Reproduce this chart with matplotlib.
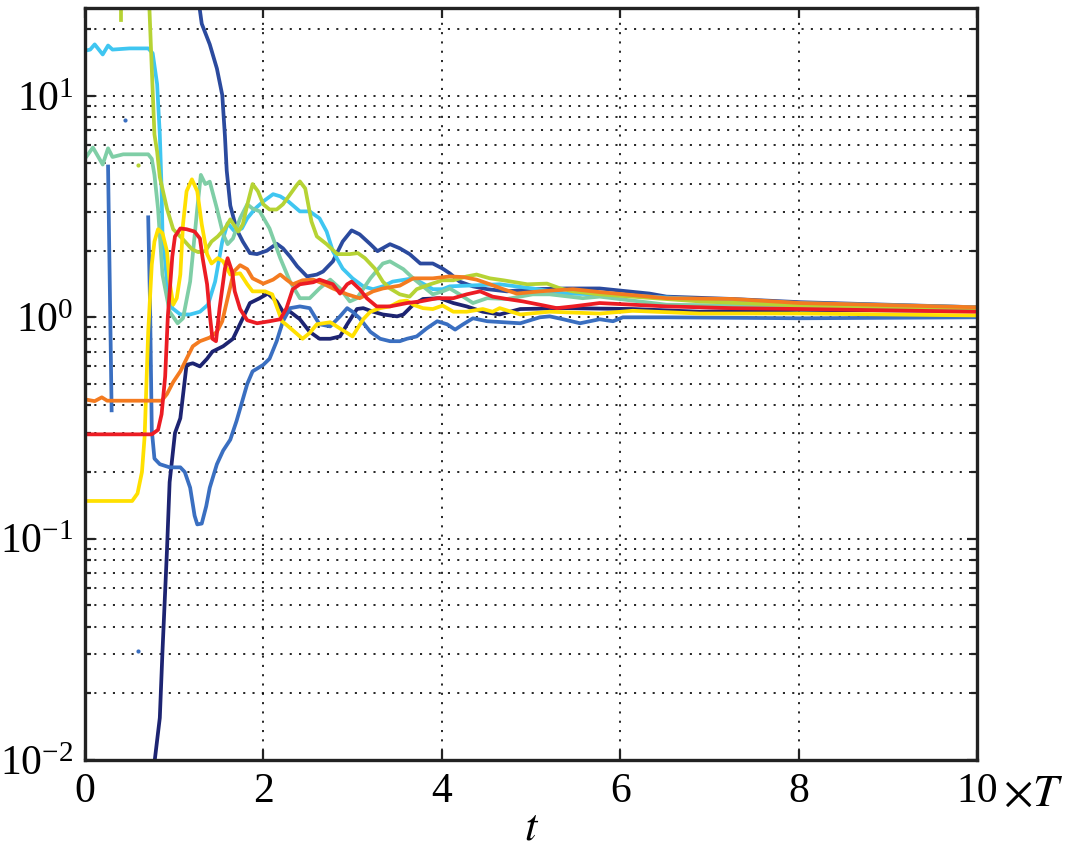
import numpy as np
import matplotlib
matplotlib.use('Agg')
from matplotlib import pyplot as plt
from matplotlib.ticker import LogLocator, NullLocator, NullFormatter, FixedLocator

nan = np.nan

# navy
navy_t = [0.77, 0.84, 0.87, 0.92, 0.95, 1.01, 1.07, 1.14, 1.21, 1.29, 1.37, 1.43, 1.55, 1.66, 1.77,
          1.85, 1.96, 2.05, 2.15, 2.22, 2.30, 2.41, 2.52, 2.63, 2.75, 2.86, 2.94, 3.05, 3.12, 3.23,
          3.34, 3.50, 3.57, 3.68, 3.79, 3.98, 4.13, 4.28, 4.46, 4.65, 4.88, 5.40, 6.14, 6.89, 8.02, 10.0]
navy_v = [0.009, 0.0155, 0.031, 0.088, 0.18, 0.30, 0.35, 0.61, 0.62, 0.60, 0.65, 0.70, 0.74, 0.80, 0.99,
          1.16, 1.22, 1.28, 1.18, 1.06, 1.06, 0.98, 0.86, 0.80, 0.80, 0.82, 0.93, 1.09, 1.10, 1.06,
          1.03, 1.01, 1.03, 1.14, 1.21, 1.22, 1.16, 1.12, 1.06, 1.03, 1.09, 1.10, 1.09, 1.06, 1.08, 1.07]

# dark blue
db_t = [1.28, 1.31, 1.40, 1.48, 1.54, 1.57, 1.59, 1.63, 1.70, 1.77, 1.85, 1.93, 2.04, 2.15, 2.22,
        2.30, 2.38, 2.49, 2.60, 2.67, 2.78, 2.89, 2.99, 3.08, 3.20, 3.28, 3.42, 3.53, 3.64, 3.76,
        3.90, 4.01, 4.09, 4.20, 4.35, 4.51, 4.73, 5.02, 5.40, 5.77, 6.33, 6.52, 7.26, 8.02, 10.0]
db_v = [26, 21.2, 17.1, 13.3, 10.1, 6.6, 4.6, 3.2, 2.5, 2.2, 1.95, 1.93, 2.0, 2.15, 2.05,
        1.88, 1.70, 1.53, 1.56, 1.61, 1.79, 2.20, 2.47, 2.37, 2.14, 1.99, 2.14, 2.05, 1.93, 1.75,
        1.75, 1.66, 1.58, 1.45, 1.38, 1.34, 1.31, 1.34, 1.35, 1.35, 1.28, 1.24, 1.21, 1.17, 1.11]

# medium blue (has a gap)
mb_t = [0.26, 0.30, nan, 0.71, 0.73, 0.75, 0.78, 0.84, 0.95, 1.07, 1.12, 1.18, 1.23, 1.26, 1.31,
        1.36, 1.40, 1.48, 1.55, 1.63, 1.70, 1.82, 1.88, 2.00, 2.07, 2.15, 2.22, 2.30, 2.41, 2.52,
        2.63, 2.75, 2.86, 2.94, 3.00, 3.08, 3.20, 3.31, 3.42, 3.53, 3.61, 3.72, 3.83, 3.95, 4.06,
        4.15, 4.24, 4.35, 4.51, 4.88, 5.10, 5.21, 5.36, 5.55, 5.77, 5.92, 6.03, 6.52, 8.02, 10.0]
mb_v = [4.8, 0.38, nan, 2.83, 1.18, 0.31, 0.23, 0.217, 0.21, 0.21, 0.20, 0.17, 0.127, 0.116, 0.117,
        0.14, 0.17, 0.217, 0.25, 0.28, 0.34, 0.50, 0.57, 0.61, 0.65, 0.78, 0.96, 1.10, 1.12, 1.10,
        0.93, 0.91, 1.01, 1.10, 1.06, 0.99, 0.86, 0.80, 0.78, 0.78, 0.80, 0.82, 0.89, 0.96, 0.93,
        0.88, 0.93, 0.99, 0.96, 0.94, 1.0, 1.01, 0.98, 0.94, 0.98, 0.96, 1.0, 1.0, 0.99, 1.0]

# cyan
cy_t = [0.0, 0.06, 0.11, 0.20, 0.26, 0.31, 0.50, 0.71, 0.76, 0.81, 0.84, 0.86, 0.87, 0.90, 0.92,
        0.98, 1.07, 1.18, 1.29, 1.38, 1.46, 1.54, 1.60, 1.68, 1.76, 1.82, 1.91, 2.00, 2.11, 2.19,
        2.28, 2.41, 2.52, 2.63, 2.71, 2.78, 2.89, 3.00, 3.12, 3.23, 3.34, 3.45, 3.68, 3.79, 3.90,
        4.01, 4.09, 4.28, 4.65, 5.02, 5.40, 5.77, 6.89, 8.02, 10.0]
cy_v = [16.0, 16.2, 17.1, 15.4, 16.9, 16.2, 16.4, 16.4, 15.6, 11.3, 6.7, 3.8, 2.37, 1.79, 1.45,
        1.10, 1.03, 1.03, 1.06, 1.14, 1.45, 2.20, 2.66, 2.44, 2.52, 2.80, 3.10, 3.34, 3.60, 3.52,
        3.34, 3.01, 3.01, 2.80, 2.44, 1.99, 1.66, 1.50, 1.38, 1.34, 1.38, 1.45, 1.50, 1.42, 1.34,
        1.34, 1.38, 1.39, 1.41, 1.35, 1.28, 1.27, 1.21, 1.16, 1.11]

# teal
te_t = [0.0, 0.09, 0.20, 0.26, 0.31, 0.43, 0.71, 0.75, 0.78, 0.82, 0.87, 0.95, 1.04, 1.10, 1.18,
        1.26, 1.30, 1.35, 1.40, 1.48, 1.55, 1.60, 1.66, 1.74, 1.82, 1.88, 1.96, 2.07, 2.19, 2.30,
        2.41, 2.52, 2.63, 2.75, 2.86, 2.97, 3.05, 3.20, 3.34, 3.42, 3.57, 3.68, 3.79, 3.90, 4.01,
        4.09, 4.20, 4.35, 4.51, 4.73, 5.02, 5.21, 5.58, 5.77, 6.52, 8.02, 10.0]
te_v = [5.2, 5.85, 4.9, 5.8, 5.3, 5.45, 5.45, 5.2, 4.4, 3.1, 1.56, 1.06, 0.94, 0.99, 1.45,
        3.1, 4.4, 4.0, 4.1, 3.1, 2.37, 2.14, 2.27, 2.80, 3.24, 3.10, 3.01, 2.52, 1.85, 1.45,
        1.22, 1.22, 1.35, 1.48, 1.35, 1.18, 1.22, 1.50, 1.75, 1.79, 1.65, 1.50, 1.38, 1.27, 1.31,
        1.35, 1.27, 1.16, 1.22, 1.21, 1.27, 1.27, 1.22, 1.24, 1.14, 1.12, 1.09]

# yellow-green
yg_t = [0.72, 0.75, 0.78, 0.81, 0.84, 0.92, 0.99, 1.10, 1.20, 1.27, 1.35, 1.42, 1.49, 1.57, 1.63,
        1.68, 1.72, 1.77, 1.83, 1.88, 1.94, 2.00, 2.07, 2.15, 2.22, 2.30, 2.38, 2.41, 2.47, 2.54,
        2.60, 2.71, 2.83, 2.97, 3.06, 3.14, 3.25, 3.34, 3.42, 3.53, 3.64, 3.72, 3.87, 4.01, 4.13,
        4.28, 4.39, 4.54, 4.69, 4.96, 5.18, 5.33, 5.47, 5.77, 6.89, 8.02, 10.0]
yg_v = [27, 13.3, 6.7, 5.6, 4.3, 3.1, 2.5, 2.25, 2.03, 1.97, 1.99, 2.20, 2.32, 2.52, 2.77,
        2.58, 2.44, 2.63, 3.34, 4.0, 3.71, 3.24, 3.07, 3.07, 3.24, 3.59, 3.98, 4.11, 3.82, 2.71,
        2.32, 2.14, 1.93, 1.93, 1.95, 1.85, 1.66, 1.45, 1.35, 1.27, 1.24, 1.34, 1.41, 1.47, 1.47,
        1.53, 1.56, 1.50, 1.47, 1.41, 1.42, 1.35, 1.31, 1.27, 1.18, 1.13, 1.10]

# yellow
ye_t = [0.0, 0.53, 0.59, 0.64, 0.67, 0.71, 0.75, 0.78, 0.82, 0.87, 0.92, 0.95, 0.99, 1.03, 1.07,
        1.10, 1.14, 1.20, 1.26, 1.31, 1.37, 1.42, 1.49, 1.55, 1.63, 1.74, 1.82, 1.88, 2.02, 2.10,
        2.15, 2.21, 2.28, 2.38, 2.44, 2.52, 2.60, 2.75, 2.86, 3.00, 3.12, 3.20, 3.31, 3.42, 3.53,
        3.61, 3.68, 3.79, 3.90, 4.01, 4.13, 4.28, 4.46, 4.57, 4.65, 4.88, 5.21, 5.77, 6.14, 6.89,
        8.02, 10.0]
ye_v = [0.148, 0.148, 0.16, 0.20, 0.29, 0.86, 1.73, 2.20, 2.50, 2.40, 1.99, 1.45, 1.14, 1.22, 1.56,
        2.63, 3.71, 4.2, 3.71, 2.63, 1.93, 1.75, 1.85, 1.79, 1.56, 1.58, 1.41, 1.31, 1.31, 1.27,
        1.12, 0.96, 0.91, 0.84, 0.80, 0.85, 0.93, 0.95, 0.89, 0.82, 0.98, 1.06, 1.10, 1.12, 1.18,
        1.19, 1.14, 1.10, 1.09, 1.13, 1.06, 1.06, 1.09, 1.06, 1.10, 1.03, 1.06, 1.04, 1.07, 1.04,
        1.04, 1.02]

# orange
or_t = [0.0, 0.11, 0.19, 0.25, 0.86, 0.92, 0.99, 1.07, 1.14, 1.21, 1.29, 1.40, 1.48, 1.54, 1.60,
        1.67, 1.74, 1.82, 1.88, 2.00, 2.11, 2.19, 2.26, 2.33, 2.44, 2.56, 2.67, 2.78, 2.94, 3.08,
        3.23, 3.34, 3.53, 3.68, 3.90, 4.09, 4.24, 4.39, 4.54, 4.69, 4.84, 5.10, 5.47, 5.77, 6.52,
        7.26, 8.02, 10.0]
or_v = [0.426, 0.418, 0.435, 0.42, 0.42, 0.45, 0.51, 0.57, 0.65, 0.74, 0.78, 0.81, 0.86, 0.96, 1.22,
        1.61, 1.72, 1.65, 1.50, 1.42, 1.48, 1.56, 1.48, 1.41, 1.47, 1.48, 1.42, 1.35, 1.27, 1.22,
        1.31, 1.35, 1.39, 1.50, 1.50, 1.53, 1.52, 1.48, 1.41, 1.34, 1.28, 1.31, 1.34, 1.30, 1.22,
        1.21, 1.16, 1.11]

# red
rd_t = [0.0, 0.75, 0.82, 0.86, 0.90, 0.93, 0.98, 1.01, 1.07, 1.14, 1.23, 1.29, 1.32, 1.37, 1.40,
        1.43, 1.47, 1.51, 1.57, 1.60, 1.65, 1.68, 1.74, 1.82, 1.93, 2.07, 2.19, 2.26, 2.33, 2.41,
        2.56, 2.63, 2.78, 2.86, 2.94, 2.99, 3.08, 3.16, 3.27, 3.42, 3.61, 3.76, 3.95, 4.13, 4.28,
        4.43, 4.57, 4.73, 4.91, 5.10, 5.29, 5.47, 5.77, 6.14, 6.52, 7.26, 8.02, 10.0]
rd_v = [0.296, 0.296, 0.31, 0.365, 0.54, 1.01, 1.88, 2.32, 2.52, 2.50, 2.44, 2.27, 1.85, 1.41, 1.03,
        0.80, 0.78, 1.10, 1.66, 1.85, 1.61, 1.31, 1.09, 0.97, 0.94, 0.96, 0.98, 1.10, 1.34, 1.41,
        1.44, 1.48, 1.41, 1.28, 1.41, 1.45, 1.34, 1.22, 1.12, 1.12, 1.16, 1.18, 1.22, 1.22, 1.27,
        1.31, 1.24, 1.21, 1.18, 1.14, 1.10, 1.12, 1.16, 1.14, 1.12, 1.10, 1.09, 1.06]

# stray points
mb_dots_t = [0.45, 0.60]
mb_dots_v = [7.8, 0.031]
yg_dash_t = [0.40, 0.40]
yg_dash_v = [27, 22]
yg_dots_t = [0.60]
yg_dots_v = [4.9]

plt.rcParams['font.family'] = 'serif'
plt.rcParams['font.serif'] = ['Liberation Serif', 'DejaVu Serif']
plt.rcParams['mathtext.fontset'] = 'stix'
plt.rcParams['lines.scale_dashes'] = False

fig = plt.figure(figsize=(10.88, 8.47), dpi=100)
ax = fig.add_axes([0.078, 0.1027, 0.82, 0.888])

lw = 2.7
series = [
    (navy_t, navy_v, '#1d2472'),
    (mb_t, mb_v, '#3a6fc1'),
    (db_t, db_v, '#2b4a9e'),
    (cy_t, cy_v, '#3fc6f1'),
    (te_t, te_v, '#7fcea6'),
    (yg_t, yg_v, '#b6d334'),
    (ye_t, ye_v, '#ffe000'),
    (or_t, or_v, '#f47b20'),
    (rd_t, rd_v, '#ec1c24'),
]
for t, v, c in series:
    ax.plot(t, v, color=c, lw=lw, solid_joinstyle='round')

ax.plot(mb_dots_t, mb_dots_v, 'o', color='#3a6fc1', ms=3, mec='none')
ax.plot(yg_dash_t, yg_dash_v, color='#b6d334', lw=lw)
ax.plot(yg_dots_t, yg_dots_v, 'o', color='#b6d334', ms=3, mec='none')

ax.set_yscale('log')
ax.set_xlim(0, 10)
ax.set_ylim(0.01, 25)
ax.xaxis.set_major_locator(FixedLocator([0, 2, 4, 6, 8, 10]))
ax.xaxis.set_minor_locator(NullLocator())
ax.yaxis.set_major_locator(LogLocator(base=10))
ax.yaxis.set_minor_locator(LogLocator(base=10, subs=np.arange(2, 10)))
ax.yaxis.set_minor_formatter(NullFormatter())

dots = (0, (1.5, 5.2))
ax.grid(True, which='major', axis='both', color='k', lw=1.2, linestyle=dots)
ax.grid(True, which='minor', axis='y', color='k', lw=1.2, linestyle=dots)

ax.tick_params(which='both', direction='in', top=True, right=True, width=1.6,
               labelsize=30, color='#222222')
ax.tick_params(which='major', length=7)
ax.tick_params(which='minor', length=4)
ax.tick_params(axis='x', pad=9)
ax.tick_params(axis='y', pad=8)
for s in ax.spines.values():
    s.set_linewidth(2.4)
    s.set_color('#222222')

fig.text(0.489, 0.022, r'$t$', fontsize=32, ha='center', va='center')
fig.text(0.922, 0.062, r'$\times T$', fontsize=33, ha='left', va='center')

fig.savefig('out.png', dpi=100)
